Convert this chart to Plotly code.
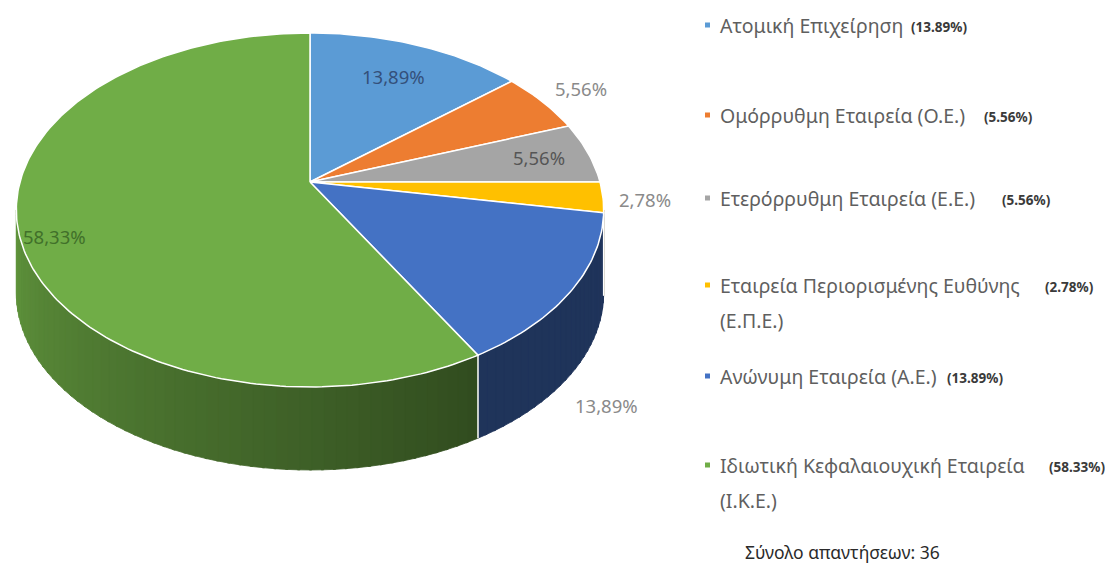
import numpy as np
import plotly.graph_objects as go

# ---------------- data ----------------
categories = [
    "Ατομική Επιχείρηση",
    "Ομόρρυθμη Εταιρεία (Ο.Ε.)",
    "Ετερόρρυθμη Εταιρεία (Ε.Ε.)",
    "Εταιρεία Περιορισμένης Ευθύνης (Ε.Π.Ε.)",
    "Ανώνυμη Εταιρεία (Α.Ε.)",
    "Ιδιωτική Κεφαλαιουχική Εταιρεία (Ι.Κ.Ε.)",
]
counts = [5, 2, 2, 1, 5, 21]
total_label = "Σύνολο απαντήσεων"

# ---------------- style ----------------
colors = ["#5B9BD5", "#ED7D31", "#A5A5A5", "#FFC000", "#4472C4", "#70AD47"]
label_colors = ["#34507a", "#8a8a8a", "#555555", "#8a8a8a", "#8a8a8a", "#41702a"]
label_r = [0.75, 1.18, 0.82, 1.14, 1.12, 0.88]
label_dz = [0, 0, 0, 0, 100, 14]
legend_y = [25, 115, 198, 285, 376, 465]
legend_wrap = [False, False, False, True, False, True]
legend_pct_x = [909, 982, 1000, 1043, 945, 1047]

W, H = 1113, 580
OFF = 8  # page body margin
CX, CY = 310.0, 182.0      # apex of the pie (screen px)
A, B, K = 290.0, 172.6, 0.158  # perspective ellipse parameters
DEPTH = 83.0

total = sum(counts)
pct = [c / total * 100 for c in counts]
angles = np.concatenate([[0], np.cumsum(pct) * 3.6])


def proj(phi_deg, r=1.0, dz=0.0):
    phi = np.radians(phi_deg)
    u = r * np.sin(phi)
    v = r * np.cos(phi)
    d = 1 + K * v
    return CX + A * u / d, CY - B * v / d + dz


def shade(hexcol, f):
    h = hexcol.lstrip("#")
    rgb = [int(h[i:i + 2], 16) for i in (0, 2, 4)]
    return "rgb(%d,%d,%d)" % tuple(max(0, min(255, int(c * f))) for c in rgb)


def side_factor(phi):
    if phi <= 150:
        return 0.46
    return 0.44 + 0.42 * (phi - 150) / 111.0


fig = go.Figure()

# ---- side walls (visible front part) ----
phi_min = np.degrees(np.arccos(-K))
phi_max = 360 - phi_min
for i in range(len(counts)):
    s0 = max(angles[i], phi_min)
    s1 = min(angles[i + 1], phi_max)
    if s1 <= s0:
        continue
    n = max(1, int(np.ceil((s1 - s0) / 2.0)))
    edges = np.linspace(s0, s1, n + 1)
    for j in range(n):
        t0, t1 = edges[j], min(edges[j + 1] + 0.4, s1)
        ts = np.linspace(t0, t1, 4)
        xt, yt = proj(ts)
        xb, yb = proj(ts[::-1], dz=DEPTH)
        col = shade(colors[i], side_factor((t0 + t1) / 2))
        fig.add_trace(go.Scatter(
            x=np.concatenate([xt, xb, xt[:1]]), y=np.concatenate([yt, yb, yt[:1]]),
            mode="lines", fill="toself", fillcolor=col,
            line=dict(color=col, width=0.8), hoverinfo="skip", showlegend=False))

# vertical white edges at slice boundaries on the visible side
for a in angles[1:-1]:
    if phi_min < a < phi_max:
        x0, y0 = proj(a)
        x1, y1 = proj(a, dz=DEPTH)
        fig.add_trace(go.Scatter(x=[x0, x1], y=[y0, y1], mode="lines",
                                 line=dict(color="white", width=1.5),
                                 hoverinfo="skip", showlegend=False))

# ---- top faces ----
for i in range(len(counts)):
    a0, a1 = angles[i], angles[i + 1]
    ts = np.linspace(a0, a1, max(3, int((a1 - a0) / 1.0) + 2))
    xs, ys = proj(ts)
    fig.add_trace(go.Scatter(
        x=np.concatenate([[CX], xs, [CX]]), y=np.concatenate([[CY], ys, [CY]]),
        mode="lines", fill="toself", fillcolor=colors[i],
        line=dict(color="white", width=1.5),
        name=categories[i], text=f"{pct[i]:.2f}%".replace(".", ","),
        hoverinfo="name+text", showlegend=False))

annotations = []
# ---- data labels ----
for i in range(len(counts)):
    mid = (angles[i] + angles[i + 1]) / 2
    lx, ly = proj(mid, r=label_r[i], dz=label_dz[i])
    annotations.append(dict(
        x=float(lx), y=float(ly), xref="x", yref="y", showarrow=False,
        text=f"{pct[i]:.2f}%".replace(".", ","),
        font=dict(family="Noto Sans", size=18.5, color=label_colors[i])))

# ---- custom legend ----
shapes = []
for i, name in enumerate(categories):
    y = legend_y[i]
    shapes.append(dict(type="rect", xref="x", yref="y", x0=705, x1=710,
                       y0=y - 2.5, y1=y + 2.5, fillcolor=colors[i], line=dict(width=0)))
    if legend_wrap[i]:
        k = name.rfind(" (")
        lines = [name[:k], name[k + 1:]]
    else:
        lines = [name]
    for j, ln in enumerate(lines):
        annotations.append(dict(
            x=718, y=y + 35 * j, xref="x", yref="y", xanchor="left", yanchor="middle",
            showarrow=False, text=ln,
            font=dict(family="Noto Sans", size=19.5, color="#5f5f5f")))
    annotations.append(dict(
        x=legend_pct_x[i], y=y + 2, xref="x", yref="y", xanchor="left", yanchor="middle",
        showarrow=False, text=f"({pct[i]:.2f}%)",
        font=dict(family="Noto Sans", size=13.5, color="#3a3a3a", weight="bold")))

annotations.append(dict(
    x=743, y=552, xref="x", yref="y", xanchor="left", yanchor="middle",
    showarrow=False, text=f"{total_label}: {total}",
    font=dict(family="Noto Sans", size=17.5, color="#2a2a2a")))

fig.update_layout(
    width=W - 2 * OFF, height=H - 2 * OFF, margin=dict(l=0, r=0, t=0, b=0),
    paper_bgcolor="white", plot_bgcolor="white",
    xaxis=dict(range=[OFF, W - OFF], visible=False, fixedrange=True),
    yaxis=dict(range=[H - OFF, OFF], visible=False, fixedrange=True),
    annotations=annotations, shapes=shapes, showlegend=False,
)

fig.write_html("out.html")
